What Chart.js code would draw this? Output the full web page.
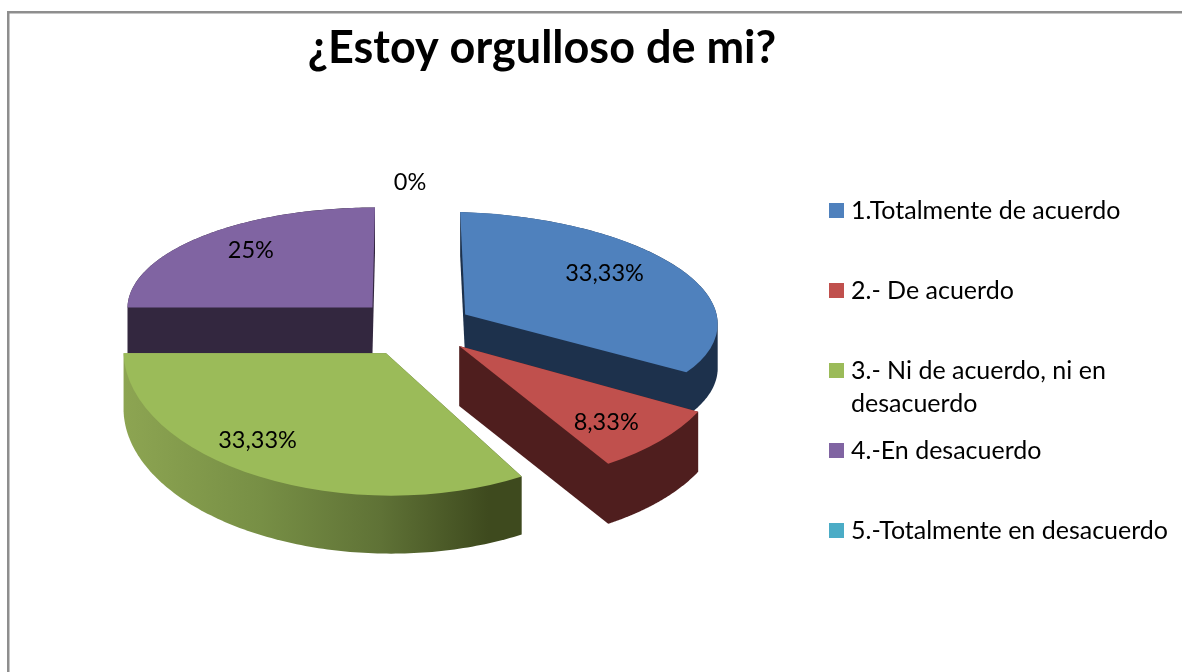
<!DOCTYPE html>
<html><head><meta charset="utf-8">
<style>html,body{margin:0;padding:0;background:#fff;overflow:hidden}canvas{display:block}#w{width:1182px;height:672px;position:relative}</style>
<script src="https://cdn.jsdelivr.net/npm/chart.js@4/dist/chart.umd.min.js"></script>
</head><body><div id="w"><canvas id="c" width="1182" height="672"></canvas></div>
<script>
const titleText = '¿Estoy orgulloso de mi?';
const categories = ['1.Totalmente de acuerdo','2.- De acuerdo','3.- Ni de acuerdo, ni en desacuerdo','4.-En desacuerdo','5.-Totalmente en desacuerdo'];
const legendLines = [['1.Totalmente de acuerdo'],['2.- De acuerdo'],['3.- Ni de acuerdo, ni en','desacuerdo'],['4.-En desacuerdo'],['5.-Totalmente en desacuerdo']];
const values = [33.33, 8.33, 33.33, 25, 0];
const valueLabels = ['33,33%','8,33%','33,33%','25%','0%'];
const topColors = ['#4f81bd','#c0504d','#9bbb59','#8064a2','#4bacc6'];
const wallColors = ['#1d314c','#4f1e1e','#9bbb59','#33273f','#1e4450'];
const explode = [58,55,57,62,0];
// perspective look of each slice (canvas transform a,b,c,d) and its wall depth
const view = [[1.01,0.03,0.02,0.41],[1.06,-0.015,0.076,0.553],[1.05,0,0.02,0.57],[0.98,0,-0.01,0.40],[1,0,0,0.41]];
const depth = [44,60,58,46,0];
const wallOrder = [3,0,1,2];
const labelNudge = [[-14,-4],[25,30],[-40,33],[2,-7],[-5,-47]];
const CX=415, CY=325, R=250;
const FONT='Lato, Carlito, sans-serif';

function place(ctx,arc,i,dy){
  const m=(arc.startAngle+arc.endAngle)/2, v=view[i];
  ctx.translate(CX,CY+dy);
  ctx.transform(v[0],v[1],v[2],v[3],0,0);
  ctx.translate(Math.cos(m)*explode[i]-arc.x,Math.sin(m)*explode[i]-arc.y);
}
// outline of an extruded slice: convex hull of its top and bottom faces on screen
function wallOutline(p,i){
  const m=(p.startAngle+p.endAngle)/2, v=view[i], e=explode[i], pts=[];
  const add=(lx,ly)=>{
    const x=CX+v[0]*lx+v[2]*ly, y=CY+v[1]*lx+v[3]*ly;
    pts.push([x,y],[x,y+depth[i]]);
  };
  const ox=Math.cos(m)*e, oy=Math.sin(m)*e;
  add(ox,oy);
  for(let s=0;s<=120;s++){
    const t=p.startAngle+(p.endAngle-p.startAngle)*s/120;
    add(ox+p.outerRadius*Math.cos(t),oy+p.outerRadius*Math.sin(t));
  }
  pts.sort((a,b)=>a[0]-b[0]||a[1]-b[1]);
  const cross=(o,a,b)=>(a[0]-o[0])*(b[1]-o[1])-(a[1]-o[1])*(b[0]-o[0]);
  const lo=[],up=[];
  for(const q of pts){while(lo.length>1&&cross(lo[lo.length-2],lo[lo.length-1],q)<=0)lo.pop();lo.push(q);}
  for(const q of pts.slice().reverse()){while(up.length>1&&cross(up[up.length-2],up[up.length-1],q)<=0)up.pop();up.push(q);}
  return lo.slice(0,-1).concat(up.slice(0,-1));
}
const pie3d={
  id:'pie3d',
  beforeDraw(ch){
    const c=ch.ctx;c.save();
    c.fillStyle='#fff';c.fillRect(0,0,1182,672);
    c.fillStyle='#8e8e8e';
    c.fillRect(7,11,1175,2.5);c.fillRect(7,11,2.5,661);
    c.restore();
  },
  afterDatasetsUpdate(ch){
    ch.getDatasetMeta(0).data.forEach((arc,i)=>{
      if(arc.__wrapped)return;arc.__wrapped=true;
      const orig=arc.draw;
      arc.draw=function(ctx,area){ctx.save();place(ctx,this,i,0);orig.call(this,ctx,area);ctx.restore();};
    });
  },
  beforeDatasetsDraw(ch){
    const c=ch.ctx,arcs=ch.getDatasetMeta(0).data;
    wallOrder.forEach(i=>{
      const p=arcs[i].getProps(['x','y','startAngle','endAngle','outerRadius']);
      let fill=wallColors[i];
      if(i===2){
        const g=c.createLinearGradient(122,0,520,0);
        g.addColorStop(0,'#8da552');g.addColorStop(.35,'#778f45');g.addColorStop(.65,'#5f7236');g.addColorStop(.92,'#3e4a1e');g.addColorStop(1,'#3e4a1e');
        fill=g;
      }
      const hull=wallOutline(p,i);
      c.save();
      c.fillStyle=fill;
      c.beginPath();
      hull.forEach((q,k)=>k?c.lineTo(q[0],q[1]):c.moveTo(q[0],q[1]));
      c.closePath();c.fill();
      c.restore();
    });
  },
  afterDatasetsDraw(ch){
    const c=ch.ctx,arcs=ch.getDatasetMeta(0).data;
    c.save();
    c.fillStyle='#000';c.font='23.5px '+FONT;c.textBaseline='middle';c.textAlign='center';
    arcs.forEach((a,i)=>{
      const p=a.getProps(['startAngle','endAngle']);
      const m=(p.startAngle+p.endAngle)/2;
      c.fillText(valueLabels[i],CX+Math.cos(m)*235+labelNudge[i][0],CY+Math.sin(m)*235*.405+labelNudge[i][1]);
    });
    c.textAlign='left';c.font='25px '+FONT;
    legendLines.forEach((lines,i)=>{
      const y=211+i*80;
      c.fillStyle=topColors[i];c.fillRect(829,y-8,15,15);
      c.fillStyle='#000';
      lines.forEach((t,j)=>c.fillText(t,851,y+j*33));
    });
    c.restore();
  }
};
new Chart(document.getElementById('c'),{
  type:'pie',
  data:{labels:categories,datasets:[{data:values,backgroundColor:topColors,borderWidth:0,clip:false}]},
  options:{
    responsive:false,animation:false,radius:R,
    layout:{padding:{left:0,right:98,top:0,bottom:0}},
    plugins:{
      legend:{display:false},tooltip:{enabled:false},
      title:{display:true,text:titleText,color:'#000',font:{family:FONT,size:45,weight:'bold'},padding:{top:21,bottom:10}}
    }
  },
  plugins:[pie3d]
});
</script></body></html>
